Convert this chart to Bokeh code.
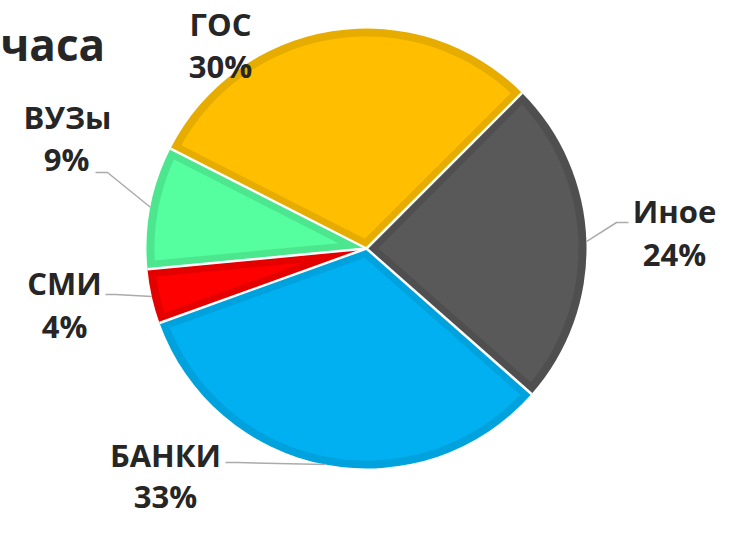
import numpy as np
from bokeh.plotting import figure
from bokeh.models import Range1d
from bokeh.core.properties import value
from bokeh.embed import file_html
from bokeh.resources import INLINE

# ---------------- data ----------------
categories = ["ГОС", "Иное", "БАНКИ", "СМИ", "ВУЗы"]
shares = [30, 24, 33, 4, 9]
title_text = "часа"

# ---------------- style / layout ----------------
fill_colors = ["#FFBF00", "#595959", "#00B0F0", "#FF0000", "#55FF9F"]
border_colors = ["#E6AC00", "#4F4F4F", "#00A2DE", "#E50000", "#4CE68F"]
start_deg = 297.0          # clockwise from 12 o'clock
W, H = 716, 518


def Y(yp):                 # picture pixel -> data y
    return H - yp


cx, cy, R, d = 366.0, Y(248), 220.0, 8.0
name_pos = [(220, 23), (674, 210), (165, 454), (64, 282), (67, 116)]
pct_pos = [(220, 65), (674, 253), (165, 495), (64, 325), (66, 158)]
connectors = [None, ((628, 222), (616, 222)), ((225, 462), (237, 462)),
              ((105, 294), (115, 294)), ((95, 172), (107, 172))]
text_color = "#262626"
font = value("Open Sans")

p = figure(width=W, height=H, output_backend="svg", toolbar_location=None,
           x_range=Range1d(0, W), y_range=Range1d(0, H),
           x_axis_type=None, y_axis_type=None, min_border=0)
p.outline_line_color = None
p.grid.visible = False
p.background_fill_color = "white"

total = float(sum(shares))
bounds = [start_deg]
for s in shares:
    bounds.append(bounds[-1] + 360.0 * s / total)


def inset(phi1, phi2):
    h = np.radians((phi2 - phi1) / 2)
    m = np.radians((phi1 + phi2) / 2)
    s = d / np.sin(h)
    P = np.array([s * np.sin(m), s * np.cos(m)])
    r = R - d
    ang = []
    for phi in (phi1, phi2):
        u = np.array([np.sin(np.radians(phi)), np.cos(np.radians(phi))])
        b = P @ u
        t = -b + np.sqrt(b * b - P @ P + r * r)
        A = P + t * u
        ang.append(np.degrees(np.arctan2(A[0], A[1])))
    a1, a2 = ang
    while a2 < a1:
        a2 += 360
    arc = np.linspace(a1, a2, 90)
    xs = np.concatenate([[P[0]], r * np.sin(np.radians(arc))]) + cx
    ys = np.concatenate([[P[1]], r * np.cos(np.radians(arc))]) + cy
    return list(xs), list(ys)


# outer (border-coloured) wedges
p.wedge(x=[cx] * len(shares), y=[cy] * len(shares), radius=R,
        start_angle=[90 - b for b in bounds[:-1]],
        end_angle=[90 - b for b in bounds[1:]],
        start_angle_units="deg", end_angle_units="deg", direction="clock",
        fill_color=border_colors, line_color=None)

# inner (lighter) inset shapes
xs_all, ys_all = [], []
for i in range(len(shares)):
    xs, ys = inset(bounds[i], bounds[i + 1])
    xs_all.append(xs)
    ys_all.append(ys)
p.patches(xs_all, ys_all, fill_color=fill_colors, line_color=None)

# white separators
bx = [cx + R * np.sin(np.radians(b)) for b in bounds[:-1]]
by = [cy + R * np.cos(np.radians(b)) for b in bounds[:-1]]
p.segment(x0=[cx] * len(bx), y0=[cy] * len(bx), x1=bx, y1=by,
          line_color="white", line_width=2.5)

# connectors
for i, c in enumerate(connectors):
    if c is None:
        continue
    mid = (bounds[i] + bounds[i + 1]) / 2
    ex = cx + R * np.sin(np.radians(mid))
    ey = cy + R * np.cos(np.radians(mid))
    (x0, y0), (x1, y1) = c
    p.line([x0, x1, ex], [Y(y0), Y(y1), ey], line_color="#ABABAB", line_width=1.5)

# labels
p.text(x=[q[0] for q in name_pos], y=[Y(q[1]) for q in name_pos], text=categories,
       text_font=font, text_font_style="bold", text_font_size="31px",
       text_color=text_color, text_align="center", text_baseline="middle")
p.text(x=[q[0] for q in pct_pos], y=[Y(q[1]) for q in pct_pos],
       text=[f"{s}%" for s in shares],
       text_font=font, text_font_style="bold", text_font_size="31px",
       text_color=text_color, text_align="center", text_baseline="middle")

# title fragment
p.text(x=[0], y=[Y(43)], text=[title_text], text_font=font, text_font_style="bold",
       text_font_size="44px", text_color=text_color, text_align="left",
       text_baseline="middle")

open("out.html", "w").write(file_html(p, INLINE))
